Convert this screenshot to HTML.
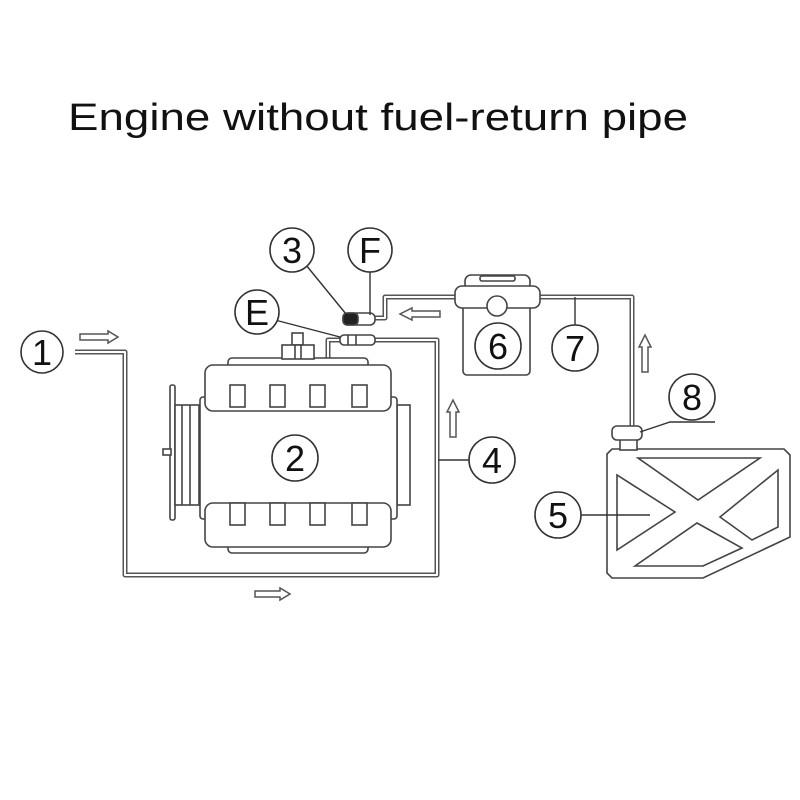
<!DOCTYPE html>
<html><head><meta charset="utf-8"><style>
html,body{margin:0;padding:0;background:#fff;}
svg{display:block;}
text{font-family:"Liberation Sans",sans-serif;}
</style></head><body>
<svg width="800" height="800" viewBox="0 0 800 800" xmlns="http://www.w3.org/2000/svg">
<rect width="800" height="800" fill="#fff"/>
<text x="68" y="130" font-size="38" fill="#111" textLength="620" lengthAdjust="spacingAndGlyphs">Engine without fuel-return pipe</text>

<g fill="none" stroke="#555" stroke-linejoin="round">
<g stroke-width="5">
<polyline points="75,352 125,352 125,575 437,575 437,340 375,340"/>
<polyline points="375,318 385,318 385,297 455,297"/>
<polyline points="540,297 632,297 632,428"/>
<polyline points="328,358 328,340 340,340"/>
</g>
<g stroke="#fff" stroke-width="2">
<polyline points="75,352 125,352 125,575 437,575 437,340 375,340"/>
<polyline points="375,318 385,318 385,297 455,297"/>
<polyline points="540,297 632,297 632,428"/>
<polyline points="328,358 328,340 340,340"/>
</g>
</g>

<g fill="#fff" stroke="#444" stroke-width="1.6">
<rect x="170" y="385" width="5" height="135" rx="2"/>
<rect x="163" y="449" width="8" height="6"/>
<rect x="175" y="405" width="24" height="100"/>
<line x1="182" y1="405" x2="182" y2="505"/><line x1="190" y1="405" x2="190" y2="505"/>
<rect x="397" y="405" width="13" height="100"/>
<rect x="228" y="358" width="140" height="10" rx="4"/>
<rect x="228" y="543" width="140" height="10" rx="4"/>
<rect x="200" y="397" width="197" height="122" rx="3"/>
<rect x="205" y="365" width="186" height="46" rx="8"/>
<rect x="205" y="503" width="186" height="44" rx="8"/>
<rect x="230" y="385" width="15" height="22"/><rect x="270" y="385" width="15" height="22"/><rect x="310" y="385" width="15" height="22"/><rect x="352" y="385" width="15" height="22"/>
<rect x="230" y="503" width="15" height="22"/><rect x="270" y="503" width="15" height="22"/><rect x="310" y="503" width="15" height="22"/><rect x="352" y="503" width="15" height="22"/>
<rect x="292" y="333" width="11" height="12"/>
<rect x="282" y="345" width="32" height="14"/>
<line x1="295" y1="345" x2="295" y2="359"/><line x1="301" y1="345" x2="301" y2="359"/>
<rect x="340" y="335" width="35" height="10" rx="4"/>
<line x1="348" y1="335" x2="348" y2="345"/><line x1="356" y1="335" x2="356" y2="345"/>
<rect x="343" y="313" width="32" height="12" rx="5"/>
<rect x="343" y="313" width="15" height="12" rx="4" fill="#222"/>
<rect x="463" y="300" width="67" height="75" rx="4"/>
<rect x="465" y="275" width="65" height="15" rx="6"/>
<rect x="455" y="286" width="85" height="22" rx="7"/>
<rect x="480" y="276" width="35" height="5" rx="2"/>
<circle cx="497" cy="306" r="10"/>
<polygon points="612,449 784,449 790,455 790,537 703,578 612,578 607,573 607,454"/>
<polygon points="638,458 760,458 698,500"/>
<polygon points="617,475 617,550 675,512"/>
<polygon points="720,517 778,470 778,527 752,540"/>
<polygon points="635,566 697,523 742,548 703,566"/>
<rect x="620" y="438" width="17" height="12"/>
<rect x="612" y="426" width="30" height="14" rx="5"/>
</g>

<g fill="#fff" stroke="#555" stroke-width="1.5">
<polygon points="80,334 108,334 108,331 118,337 108,343 108,340 80,340"/>
<polygon points="255,591 280,591 280,588 290,594 280,600 280,597 255,597"/>
<polygon points="440,311 412,311 412,308 400,314 412,320 412,317 440,317"/>
<polygon points="450,437 450,412 447,412 453,400 459,412 456,412 456,437"/>
<polygon points="642,372 642,347 639,347 645,335 651,347 648,347 648,372"/>
</g>

<g stroke="#333" stroke-width="1.4" fill="none">
<line x1="306" y1="265" x2="346" y2="314"/>
<line x1="370" y1="272" x2="370" y2="315"/>
<line x1="275" y1="320" x2="340" y2="337"/>
<line x1="438" y1="460" x2="470" y2="460"/>
<line x1="580" y1="515" x2="650" y2="515"/>
<line x1="575" y1="297" x2="575" y2="325"/>
<polyline points="640,432 670,422 715,422"/>
</g>

<g fill="#fff" stroke="#333" stroke-width="1.6">
<circle cx="42" cy="352" r="21"/>
<circle cx="295" cy="458" r="23"/>
<circle cx="292" cy="250" r="22"/>
<circle cx="370" cy="250" r="22"/>
<circle cx="257" cy="312" r="22"/>
<circle cx="498" cy="346" r="23"/>
<circle cx="575" cy="348" r="23"/>
<circle cx="692" cy="397" r="23"/>
<circle cx="492" cy="460" r="23"/>
<circle cx="558" cy="515" r="23"/>
</g>
<g font-size="36" fill="#111" text-anchor="middle">
<text x="42" y="365">1</text>
<text x="295" y="471">2</text>
<text x="292" y="263">3</text>
<text x="370" y="263">F</text>
<text x="257" y="325">E</text>
<text x="498" y="359">6</text>
<text x="575" y="361">7</text>
<text x="692" y="410">8</text>
<text x="492" y="473">4</text>
<text x="558" y="528">5</text>
</g>
</svg>
</body></html>
